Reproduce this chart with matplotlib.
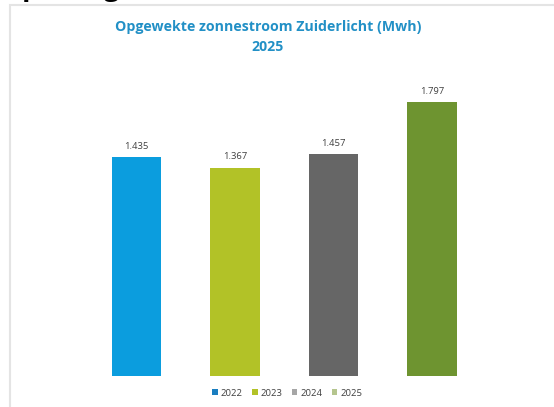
import matplotlib
matplotlib.use("Agg")
import matplotlib.pyplot as plt
from matplotlib.patches import Patch, Rectangle

years = ["2022", "2023", "2024", "2025"]
values = [1.435, 1.367, 1.457, 1.797]
labels = ["1.435", "1.367", "1.457", "1.797"]
bar_colors = ["#0B9DDE", "#B2C227", "#666666", "#6E9430"]
legend_colors = ["#1A7EC0", "#B2C227", "#A6A6A6", "#B5C58E"]

plt.rcParams['font.family'] = ['Open Sans', 'DejaVu Sans']

W, H = 554, 407
fig = plt.figure(figsize=(W / 100, H / 100), dpi=100)

# frame of the embedded chart
fig.patches.append(Rectangle((10 / W, -0.01), 1.02, 1 - 5 / H + 0.01,
                             transform=fig.transFigure, fill=False,
                             edgecolor="#E4E4E4", linewidth=1.5))

# cut-off heading above (only descenders visible)
fig.text(0.0, 1 + 5 / H, "Opbrengst", fontsize=20, fontweight="bold",
         color="black", ha="left", va="baseline")

ax = fig.add_axes([38 / W, 31 / H, 492.5 / W, 305 / H])
x = list(range(len(years)))
bars = ax.bar(x, values, width=0.5, color=bar_colors)
for xi, v, lab in zip(x, values, labels):
    ax.annotate(lab, (xi, v), xytext=(0, 4.5), textcoords="offset points",
                ha="center", va="bottom", fontsize=6.8, color="#404040")
ax.set_xlim(-1, 4)
ax.set_ylim(0, 2.0)
ax.axis("off")

fig.text(268 / W, 1 - 27 / H, "Opgewekte zonnestroom Zuiderlicht (Mwh)",
         ha="center", va="center", fontsize=10.2, fontweight="bold",
         color="#2290C6")
fig.text(268 / W, 1 - 47 / H, "2025", ha="center", va="center",
         fontsize=10.2, fontweight="bold", color="#2290C6")

handles = [Patch(facecolor=c, edgecolor="none") for c in legend_colors]
fig.legend(handles, years, loc="center", bbox_to_anchor=(287 / W, 1 - 393 / H),
           ncol=4, frameon=False, fontsize=6.8, handlelength=0.6,
           handleheight=0.6, handletextpad=0.3, columnspacing=1.0,
           labelcolor="#404040")

fig.savefig("out.png", dpi=100)
